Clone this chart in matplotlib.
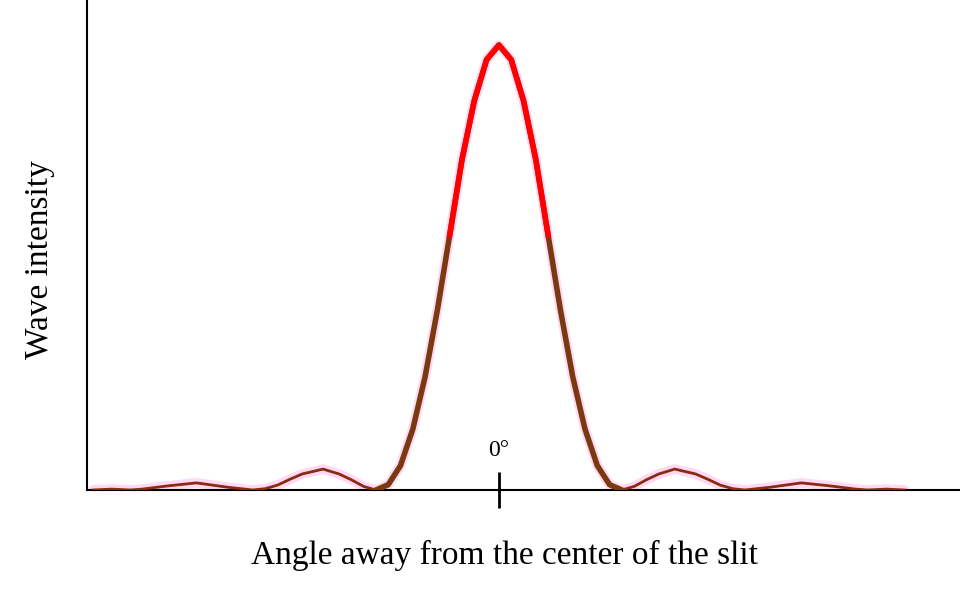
import numpy as np
import matplotlib.pyplot as plt

# angle (in units of first-minimum spacing) and relative intensity
half_u = [0.0, 0.1, 0.2, 0.3, 0.4, 0.5, 0.6, 0.7, 0.8, 0.9, 1.0,
          1.1, 1.2, 1.3, 1.43, 1.6, 1.7, 1.8, 1.9, 2.0,
          2.2, 2.46, 2.7, 2.9, 3.0,
          3.15, 3.3]
half_i = [1.0, 0.967, 0.875, 0.743, 0.573, 0.405, 0.255, 0.137, 0.055, 0.012, 0.0,
          0.008, 0.023, 0.036, 0.047, 0.036, 0.024, 0.011, 0.003, 0.0,
          0.006, 0.016, 0.009, 0.002, 0.0,
          0.002, 0.0]

u = np.array([-x for x in half_u[::-1]] + half_u[1:])
inten = np.array(half_i[::-1] + half_i[1:])

plt.rcParams['font.family'] = ['Liberation Serif', 'DejaVu Serif']
fig = plt.figure(figsize=(9.6, 5.97), dpi=100)
ax = fig.add_axes([87/960, 107/597, 1 - 87/960, 490/597])
ax.set_xlim(-3.35, 3.75)
ax.set_ylim(0, 490/445)

brown = '#8b2a10'
# faint pink halo
ax.plot(u, inten, color='#ffd8f4', lw=7, zorder=1, solid_capstyle='round')
ax.plot([-3.35, 3.3], [0, 0], color='#555555', lw=2, zorder=2)
ax.plot(u, inten, color=brown, lw=2, zorder=3)
main = np.abs(u) <= 1.0
ax.plot(u[main], inten[main], color='#7a3a10', lw=4, zorder=4)
mu = u[main]
mi = inten[main]
hi = np.ma.masked_less(mi, 0.42)
ax.plot(mu, hi, color='#ff0000', lw=4, zorder=5)

for s in ['top', 'right']:
    ax.spines[s].set_visible(False)
ax.spines['left'].set_linewidth(1.5)
ax.spines['bottom'].set_linewidth(1.5)
ax.set_yticks([])
ax.set_xticks([0])
ax.set_xticklabels([''])
ax.tick_params(axis='x', direction='inout', length=26, width=2, color='black')
ax.text(0, 0.065, '0°', ha='center', va='bottom', fontsize=17)

fig.text(40/960, 1 - 260/597, 'Wave intensity', rotation=90, ha='center', va='center', fontsize=24)
fig.text(505/960, 1 - 555/597, 'Angle away from the center of the slit', ha='center', va='center', fontsize=24)

fig.savefig('out.png', dpi=100)
